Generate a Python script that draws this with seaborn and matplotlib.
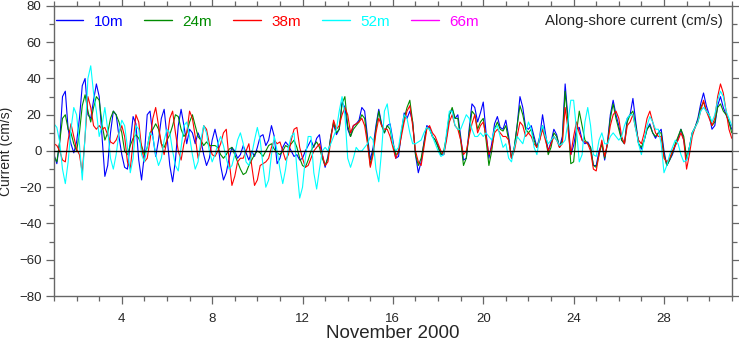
import numpy as np
import pandas as pd
import matplotlib
matplotlib.use("Agg")
import matplotlib.pyplot as plt
import seaborn as sns
from matplotlib.lines import Line2D
from matplotlib.ticker import MultipleLocator, FixedLocator

# ---------------- data (3-hourly, starting 1 Nov 2000 00:00) ----------------
start_day = 1.0
step_hours = 3

depth_labels = ["10m", "24m", "38m", "52m", "66m"]
depth_colors = ["#0000FF", "#008C00", "#FF0000", "#00FFFF", "#FF00FF"]

v10m = [
    -2, -7, 5, 30, 33, 12, 4, -1,
    5, 18, 36, 40, 20, 18, 28, 37,
    30, 8, -14, -8, 10, 22, 20, 8,
    -2, -9, -10, 5, 19, 15, -5, -16,
    -2, 20, 22, 8, -3, 6, 18, 23,
    8, -8, -17, -5, 14, 23, 14, 4,
    12, 10, 4, 10, 6, -2, -8, -4,
    6, 12, 5, -8, -16, -12, -4, 2,
    0, -4, -2, 3, -1, -5, 0, -3,
    2, 8, 9, 3, 6, 14, 8, -7,
    -4, 2, 5, 3, 0, -3, -2, -5,
    -4, 0, 3, 6, 2, 7, 9, -2,
    -9, -3, 8, 15, 9, 12, 27, 24,
    12, 8, 14, 15, 17, 24, 22, 8,
    -5, 2, 14, 23, 15, 10, 14, 15,
    6, -4, -3, 10, 21, 18, 22, 16,
    -2, -12, -6, 5, 14, 13, 8, 6,
    3, -2, -2, 8, 20, 23, 18, 20,
    8, -5, -4, 12, 26, 24, 16, 21,
    27, 10, -4, 4, 15, 19, 13, 12,
    17, 8, -4, 2, 14, 30, 24, 13,
    12, 14, 8, 2, 8, 20, 10, 0,
    5, 12, 9, 2, 8, 37, 18, -2,
    3, 12, 13, 6, 4, 5, 2, -8,
    -8, 0, 4, -5, 5, 20, 28, 20,
    14, 6, 4, 18, 20, 29, 16, 4,
    1, 6, 12, 15, 10, 7, 10, 12,
    0, -8, -5, -2, 3, 7, 12, 6,
    -5, 2, 10, 13, 18, 26, 32, 25,
    20, 12, 14, 25, 30, 24, 20, 16,
    12,
]

v24m = [
    -3, -6, 5, 18, 20, 12, 10, 4,
    0, 10, 25, 31, 22, 16, 24, 30,
    28, 15, 6, 10, 18, 22, 20, 16,
    10, 0, -2, 3, 7, 9, 7, 3,
    -2, 2, 10, 12, 15, 12, 4, 2,
    6, 9, 14, 20, 19, 12, 8, 10,
    16, 20, 14, 8, 6, 3, 5, 3,
    3, 3, 2, -2, -4, -2, 1, 2,
    -2, -6, -10, -13, -12, -8, -5, -2,
    0, -1, -3, 0, 3, 4, 1, -1,
    -2, 0, 3, 2, 4, 6, 2, -4,
    -8, -9, -5, 0, 3, 5, 2, -4,
    -8, -4, 8, 16, 10, 12, 26, 30,
    14, 8, 12, 14, 16, 20, 18, 6,
    -8, 0, 12, 22, 14, 10, 14, 12,
    4, -2, -1, 10, 18, 24, 28, 16,
    -2, -8, -4, 4, 13, 12, 8, 6,
    2, -2, 0, 8, 20, 24, 18, 18,
    6, -8, -4, 10, 22, 20, 12, 16,
    18, 6, -8, 0, 12, 16, 12, 11,
    14, 6, -4, 2, 14, 25, 20, 12,
    10, 12, 6, 2, 6, 14, 8, -2,
    2, 10, 8, 2, 6, 33, 16, -7,
    -6, 10, 22, 14, 6, 4, 2, -8,
    -9, -2, 4, -4, 4, 18, 26, 18,
    12, 6, 4, 16, 20, 22, 14, 4,
    2, 6, 12, 14, 10, 8, 10, 10,
    -2, -8, -5, -1, 4, 8, 12, 8,
    -4, 2, 10, 13, 17, 24, 27, 22,
    20, 14, 16, 24, 26, 22, 20, 16,
    10,
]

v38m = [
    4, 3, 0, -5, -6, 6, 15, 8,
    1, -2, -12, 8, 30, 24, 14, 12,
    14, 12, 13, 9, 5, 4, 6, 10,
    14, 8, -6, -10, 5, 20, 16, 2,
    -6, -4, 6, 18, 24, 14, 4, -2,
    6, 18, 22, 10, 0, -5, 4, 10,
    22, 18, 8, -4, 2, 14, 12, 4,
    -2, -3, 0, 4, 10, 12, -5, -19,
    -14, -6, -4, -4, 0, 4, -8, -19,
    -16, -8, -7, -6, -4, 2, 6, 4,
    5, 0, -5, -2, 6, 12, 13, 2,
    -4, -9, -8, -4, 0, 2, 4, -2,
    -8, -6, 6, 17, 12, 14, 20, 24,
    20, 10, 14, 15, 16, 18, 14, 4,
    -9, -2, 10, 18, 14, 12, 12, 8,
    2, -4, 0, 8, 16, 22, 25, 14,
    0, -6, -8, 2, 12, 14, 10, 8,
    4, 0, -2, 6, 16, 20, 14, 12,
    6, -2, 0, 8, 15, 20, 10, 14,
    16, 8, -2, 2, 10, 12, 10, 8,
    8, 6, -4, 0, 8, 16, 14, 8,
    10, 8, 4, 2, 6, 12, 6, 0,
    4, 8, 6, 2, 4, 24, 12, -2,
    8, 16, 10, 6, 5, 4, 0, -10,
    -11, -2, 6, -3, 4, 14, 20, 22,
    18, 8, 4, 14, 16, 20, 12, 6,
    4, 10, 18, 22, 16, 10, 8, 8,
    -4, -6, -4, 0, 3, 6, 10, 6,
    -10, -2, 8, 13, 16, 22, 28, 22,
    18, 14, 18, 30, 37, 32, 22, 12,
    7,
]

v52m = [
    15, 13, 5, -10, -18, -6, 12, 24,
    20, 4, -16, 8, 40, 47, 32, 22,
    8, 14, 24, 12, -4, -10, -2, 10,
    17, 14, 2, -12, -4, 14, 12, -2,
    -6, 2, 10, 8, -2, -8, -4, 6,
    12, 10, 0, -8, -11, 2, 14, 16,
    8, -2, -10, -6, 6, 14, 10, 0,
    -6, -2, 4, 8, 3, -4, -10, -8,
    -2, 6, 10, 4, -6, -8, -2, 6,
    13, 6, -8, -20, -16, -2, 8, 0,
    -10, -18, -10, 2, 8, 10, -10, -26,
    -20, -4, 8, 8, -12, -21, -10, 0,
    2, 0, 4, 8, 12, 22, 30, 20,
    -4, -9, -4, 2, 0, 0, 2, 4,
    8, 6, -10, -17, 0, 22, 26, 14,
    4, 0, 2, 12, 20, 18, 10, 4,
    4, 5, 6, 10, 13, 12, 8, 4,
    0, -3, -2, 10, 22, 22, 14, 12,
    12, 16, 20, 18, 12, 8, 8, 10,
    8, 10, 8, 6, 12, 14, 8, 2,
    4, -4, -6, 2, 8, 6, 4, 10,
    16, 12, 2, -2, 8, 14, 8, 4,
    6, 8, 6, 3, 4, 6, 16, 28,
    28, 12, -6, -2, 16, 24, 14, -2,
    -3, 6, 10, 4, 4, 8, 10, 8,
    6, 8, 14, 18, 20, 20, 12, 4,
    -2, 6, 14, 19, 16, 12, 12, 4,
    -12, -8, -2, 2, 6, 4, -2, -6,
    -5, 2, 10, 13, 16, 22, 24, 22,
    20, 16, 20, 28, 33, 30, 22, 18,
    14,
]

# 66m: no valid samples in this record (legend entry only)
v66m = []

# ---------------- build long-form table ----------------
series = [v10m, v24m, v38m, v52m, v66m]
frames = []
for lab, vals in zip(depth_labels, series):
    if len(vals) == 0:
        continue
    d = start_day + np.arange(len(vals)) * step_hours / 24.0
    frames.append(pd.DataFrame({"day": d, "current": vals, "depth": lab}))
df = pd.concat(frames, ignore_index=True)

# ---------------- style ----------------
sns.set_style("ticks")
plt.rcParams["font.family"] = ["Liberation Sans", "DejaVu Sans"]

fig = plt.figure(figsize=(7.39, 3.42), dpi=100)
ax = fig.add_axes([0.0731, 0.1345, 0.9171, 0.848])

present = [l for l, v in zip(depth_labels, series) if len(v)]
pal = {l: c for l, c in zip(depth_labels, depth_colors)}
sns.lineplot(data=df, x="day", y="current", hue="depth", hue_order=present,
             palette=pal, estimator=None, sort=False, linewidth=0.8,
             legend=False, ax=ax)

ax.axhline(0, color="black", lw=1.0, zorder=5)

ax.set_xlim(1, 31)
ax.set_ylim(-80, 80)
ax.xaxis.set_major_locator(FixedLocator([4, 8, 12, 16, 20, 24, 28]))
ax.xaxis.set_minor_locator(MultipleLocator(1))
ax.yaxis.set_major_locator(MultipleLocator(20))
ax.yaxis.set_minor_locator(MultipleLocator(10))
ax.tick_params(which="both", direction="out", top=True, right=True,
               labeltop=False, labelright=False, color="#666666",
               labelsize=9.5, width=0.9)
ax.tick_params(which="major", length=6)
ax.tick_params(axis="x", which="major", pad=6)
ax.tick_params(axis="y", which="major", pad=3)
ax.tick_params(which="minor", length=3.5)
for s in ax.spines.values():
    s.set_color("#666666")
    s.set_linewidth(1.0)

ax.set_xlabel("November 2000", fontsize=13.5, labelpad=0.5)
ax.set_ylabel("Current (cm/s)", fontsize=10, labelpad=4)

ax.text(0.987, 0.972, "Along-shore current (cm/s)", transform=ax.transAxes,
        ha="right", va="top", fontsize=10.8)

handles = [Line2D([], [], color=c, lw=1.0) for c in depth_colors]
leg = ax.legend(handles, depth_labels, ncol=5, loc="upper left",
                bbox_to_anchor=(0.0, 0.975), frameon=False, fontsize=11,
                handlelength=1.8, handletextpad=0.7, columnspacing=1.38,
                borderaxespad=0.0, borderpad=0.1)
for t, c in zip(leg.get_texts(), depth_colors):
    t.set_color(c)

fig.savefig("out.png", dpi=100)
